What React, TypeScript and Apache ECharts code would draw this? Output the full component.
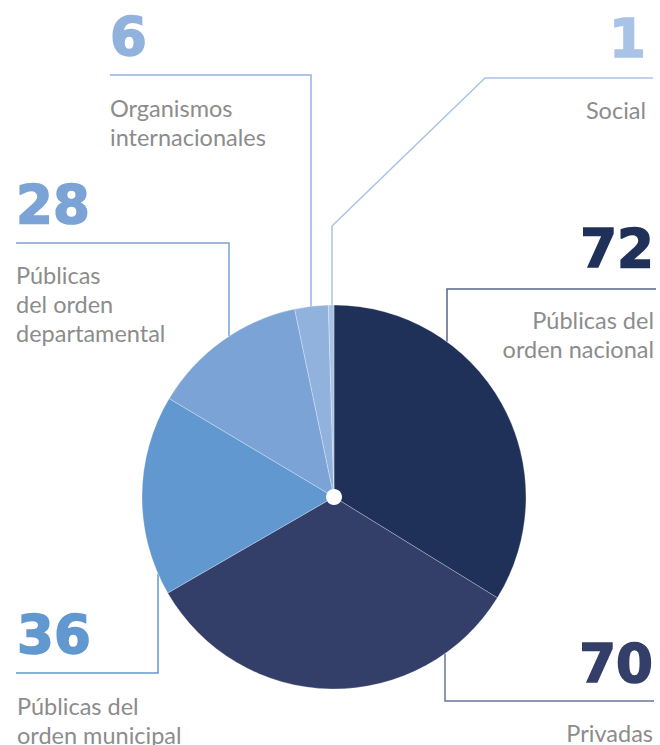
import React, { useEffect, useRef } from "react";
import * as echarts from "echarts";

const categories = [
  "Públicas del orden nacional",
  "Privadas",
  "Públicas del orden municipal",
  "Públicas del orden departamental",
  "Organismos internacionales",
  "Social",
];
const labelLines = [
  ["Públicas del", "orden nacional"],
  ["Privadas"],
  ["Públicas del", "orden municipal"],
  ["Públicas", "del orden", "departamental"],
  ["Organismos", "internacionales"],
  ["Social"],
];
const values = [72, 70, 36, 28, 6, 1];
const colors = ["#1f3159", "#333e69", "#6198cf", "#7ba3d5", "#92b2de", "#a9c3e6"];
const lineColors = ["#56668c", "#6b7499", "#6198cf", "#7ba3d5", "#94b3df", "#a9c3e6"];

// layout (positions only)
const CX = 334;
const CY = 497;
const R = 192;
type Lay = {
  align: "left" | "right";
  x: number;
  numBase: number;
  textBase: number;
  hy: number;
  hx0: number;
  hx1: number;
  vx: number;
  side: "top" | "bottom";
  diag?: [number, number];
};
const layout: Lay[] = [
  { align: "right", x: 655, numBase: 267, textBase: 327, hy: 289, hx0: 447, hx1: 656, vx: 447, side: "top" },
  { align: "right", x: 654, numBase: 682, textBase: 740, hy: 701, hx0: 445, hx1: 654, vx: 445, side: "bottom" },
  { align: "left", x: 16, numBase: 653, textBase: 713, hy: 673, hx0: 16, hx1: 158, vx: 158, side: "bottom" },
  { align: "left", x: 15, numBase: 223, textBase: 282, hy: 243, hx0: 16, hx1: 229, vx: 229, side: "top" },
  { align: "left", x: 109, numBase: 55, textBase: 115, hy: 75, hx0: 110, hx1: 311, vx: 311, side: "top" },
  { align: "right", x: 647, numBase: 57, textBase: 117, hy: 78, hx0: 485, hx1: 653, vx: 332, side: "top", diag: [332, 226] },
];

const NUM_FS = 53;
const TXT_FS = 23.5;
const LINE_H = 29;

function edgeY(x: number, side: "top" | "bottom") {
  const dx = x - CX;
  const d = Math.sqrt(Math.max(0, R * R - dx * dx));
  return side === "top" ? CY - d : CY + d;
}

export default function App() {
  const ref = useRef<HTMLDivElement>(null);
  useEffect(() => {
    if (!ref.current) return;
    const chart = echarts.init(ref.current, undefined, { renderer: "svg" });
    const graphics: any[] = [];
    layout.forEach((l, i) => {
      const pts: number[][] = [];
      const ey = edgeY(l.vx, l.side);
      if (l.diag) {
        pts.push([l.hx1, l.hy], [l.hx0, l.hy], l.diag, [l.vx, ey]);
      } else if (l.align === "left") {
        pts.push([l.hx0, l.hy], [l.hx1, l.hy], [l.vx, ey]);
      } else {
        pts.push([l.hx1, l.hy], [l.hx0, l.hy], [l.vx, ey]);
      }
      graphics.push({
        type: "polyline",
        shape: { points: pts },
        style: { stroke: lineColors[i], lineWidth: 1.5, fill: null },
        silent: true,
      });
      graphics.push({
        type: "text",
        x: l.x + (l.align === "left" ? 1 : -1),
        y: l.numBase - NUM_FS * 0.35,
        style: {
          text: String(values[i]),
          fill: colors[i],
          stroke: colors[i],
          lineWidth: 1.6,
          font: `bold ${NUM_FS}px "DejaVu Sans"`,
          align: l.align,
          verticalAlign: "middle",
        },
      });
      labelLines[i].forEach((t, k) => {
        graphics.push({
          type: "text",
          x: l.x + (l.align === "left" ? 1 : -1),
          y: l.textBase + k * LINE_H - TXT_FS * 0.3,
          style: {
            text: t,
            fill: "#8c8c8c",
            font: `400 ${TXT_FS}px Lato`,
            align: l.align,
            verticalAlign: "middle",
          },
        });
      });
    });
    graphics.push({
      type: "circle",
      shape: { cx: CX, cy: CY, r: 8 },
      style: { fill: "#ffffff" },
      z: 100,
    });
    chart.setOption({
      animation: false,
      backgroundColor: "#ffffff",
      series: [
        {
          type: "pie",
          center: [CX, CY],
          radius: [0, R],
          startAngle: 90,
          clockwise: true,
          label: { show: false },
          labelLine: { show: false },
          emphasis: { disabled: true },
          itemStyle: { borderColor: "rgba(255,255,255,0.35)", borderWidth: 0.8 },
          data: categories.map((c, i) => ({
            name: c,
            value: values[i],
            itemStyle: { color: colors[i] },
          })),
        },
      ],
      graphic: graphics,
    });
    return () => chart.dispose();
  }, []);
  return (
    <div
      ref={ref}
      style={{ position: "fixed", left: 0, top: 0, width: 660, height: 745 }}
    />
  );
}
